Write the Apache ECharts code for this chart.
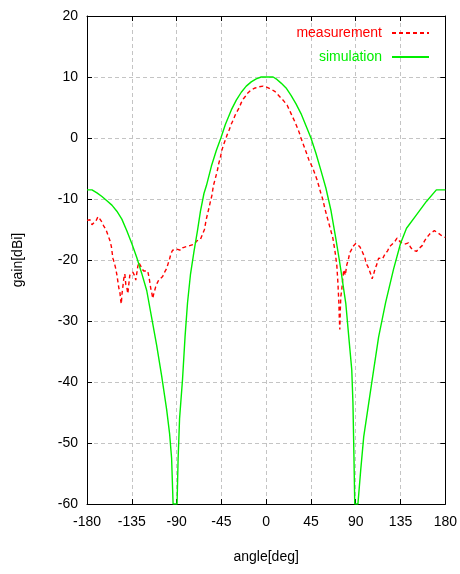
<!DOCTYPE html>
<html>
<head>
<meta charset="utf-8">
<script src="https://cdn.jsdelivr.net/npm/echarts@6/dist/echarts.min.js"></script>
<style>
  html, body { margin: 0; padding: 0; background: #fff; }
  #chart { width: 460px; height: 574px; }
</style>
</head>
<body>
<div id="chart"></div>
<script>
// 刻度
const xTicks = [-180, -135, -90, -45, 0, 45, 90, 135, 180]
const yTicks = [-60, -50, -40, -30, -20, -10, 0, 10, 20]

const measAngle = [
  -180, -178.5, -177, -175, -173, -171, -169, -167, -165, -163, -161, -159, -157, -155.5, -154,
  -152.5, -151, -150, -149, -148, -147, -146, -145.5, -145, -144, -143, -142, -141, -140, -139,
  -138, -137, -136, -135, -134, -133, -132, -131, -130, -129, -128, -127, -126, -125, -123,
  -121, -119, -117.5, -116, -115, -114, -113, -112, -111, -109.5, -108, -106, -104, -102, -100,
  -98.5, -97, -95.5, -94, -92, -90, -88, -86, -84, -82, -80, -78, -76, -74, -72,
  -70, -68, -66, -64, -62, -60.5, -59, -57.5, -56, -54.5, -53, -51, -49, -47.5, -46,
  -44.5, -43, -41, -39, -37, -35, -33, -31, -29, -27, -25, -23, -21, -19, -17,
  -15, -13, -11, -9, -7, -5, -3, -1, 1, 3, 5, 7, 9, 11, 13,
  15, 17, 19, 21, 23, 25, 27, 29, 31, 33, 35, 37, 39, 41, 43,
  45, 47, 49, 51, 53, 55, 57, 59, 61, 63, 65, 67, 69, 70, 71,
  72, 73, 73.5, 74, 74.5, 75, 76, 77, 78, 79.5, 81, 82.5, 84, 85.5, 87,
  88.5, 90, 92, 94, 96, 97.5, 99, 100.5, 102, 103.5, 105, 106.5, 108, 109.5, 111,
  113, 115, 117, 118.5, 120, 122, 124, 126, 128, 130, 131.5, 133, 135, 137, 139,
  141, 143, 145, 147, 149, 151, 153, 155, 157, 159, 161, 163, 165, 167, 169,
  171, 173, 175, 177, 179, 180
]
const measGain = [
  -13.5, -13.2, -13.4, -14.2, -14.0, -13.6, -12.9, -13.3, -13.8, -14.5, -15.0, -15.9, -16.8, -17.8, -19.7,
  -20.5, -21.5, -22.4, -23.5, -24.6, -25.2, -26.8, -27.2, -25.8, -24.4, -23.0, -22.3, -24.0, -24.5, -25.5,
  -24.0, -22.5, -22.2, -22.5, -22.0, -21.9, -22.6, -23.3, -22.2, -21.1, -20.4, -20.3, -21.0, -21.4, -21.8,
  -21.6, -21.8, -23.0, -24.6, -25.3, -26.3, -25.6, -25.0, -24.4, -23.8, -23.3, -23.0, -22.7, -22.0, -21.4,
  -20.6, -19.8, -18.9, -18.4, -18.6, -18.2, -18.1, -18.4, -18.0, -18.1, -17.8, -17.9, -17.6, -17.3, -17.4,
  -16.9, -17.1, -16.6, -16.4, -15.0, -13.6, -12.5, -11.5, -10.4, -9.4, -7.8, -6.6, -5.3, -4.1, -3.2,
  -2.0, -1.2, -0.3, 0.6, 1.4, 2.3, 3.0, 3.8, 4.4, 5.0, 5.8, 6.4, 6.8, 7.3, 7.6,
  7.9, 8.0, 8.2, 8.3, 8.4, 8.4, 8.5, 8.6, 8.3, 8.0, 8.0, 7.8, 7.6, 7.3, 6.9,
  6.6, 6.2, 5.8, 5.4, 4.7, 4.0, 3.3, 2.6, 1.8, 1.0, 0.0, -0.9, -1.8, -2.7, -3.6,
  -4.3, -5.0, -5.9, -6.8, -7.9, -9.1, -10.1, -11.6, -12.8, -14.0, -15.2, -16.4, -18.4, -19.6, -20.9,
  -23.5, -26.8, -29.5, -31.4, -28.2, -26.0, -24.8, -23.0, -21.6, -22.5, -20.8, -20.0, -18.8, -18.4, -17.8,
  -17.6, -17.3, -17.2, -17.8, -18.4, -19.0, -19.5, -20.6, -21.0, -21.6, -22.3, -23.1, -22.3, -21.4, -20.8,
  -19.7, -19.5, -19.8, -19.3, -18.9, -18.5, -17.8, -17.5, -17.2, -16.8, -16.4, -16.6, -17.1, -16.8, -17.4,
  -17.6, -17.2, -17.9, -18.3, -18.5, -18.6, -18.2, -18.3, -17.6, -16.9, -16.4, -16.0, -15.6, -15.4, -15.2,
  -15.0, -15.6, -15.9, -16.1, -16.2, -16.3
]

// simulation
const simAngle = [
  -180, -175, -170, -165, -160, -155, -150, -145, -140, -135, -130, -125, -120, -115, -110,
  -105, -100, -97, -95, -93.5, -89.5, -88.5, -87, -84, -81.5, -79, -76, -72.5, -69, -66,
  -62.5, -60, -55, -50, -45.5, -41, -35, -30, -25, -20, -15, -10, -5, 7, 10,
  15, 20, 25, 30, 35, 40, 45, 50, 55, 60, 65, 70, 73.5, 75, 80,
  83, 86, 87.2, 88.2, 89, 92.2, 95, 98, 103, 108, 113, 120, 128, 135, 141,
  151, 161, 171, 180
]
const simGain = [
  -8.5, -8.5, -9.0, -9.6, -10.3, -11.0, -12.0, -13.3, -15.2, -17.3, -19.6, -22.2, -25.0, -29.5, -34.0,
  -39.0, -44.5, -48.5, -52.5, -60, -60, -52.8, -46.0, -39.5, -32.6, -27.0, -22.3, -18.6, -15.2, -12.0,
  -9.1, -7.8, -4.6, -2.0, 0, 2.2, 4.6, 6.2, 7.5, 8.5, 9.2, 9.7, 10, 10, 9.7,
  9.0, 8.2, 7.0, 5.6, 4.0, 2.0, 0, -2.5, -5.3, -8.2, -11.8, -16.5, -20.0, -21.6, -27.1,
  -32.6, -38.0, -43.5, -52.2, -60, -60, -54.4, -49.0, -43.5, -38.0, -32.6, -27.0, -21.5, -17.3, -14.8,
  -12.6, -10.4, -8.5, -8.5
]

const toPairs = (xs, ys) => xs.map((x, i) => [x, ys[i]])

const font = "'Liberation Sans', Arial, sans-serif"
const gridLine = { show: true, lineStyle: { color: '#c4c4c4', type: [4, 3], width: 1 } }
const tick = { show: true, inside: true, length: 5, lineStyle: { color: '#000' } }
const frame = { show: true, onZero: false, lineStyle: { color: '#000' } }

let chart = echarts.init(document.getElementById('chart'))
chart.setOption({
  animation: false,
  backgroundColor: '#fff',
  grid: { left: 87, right: 11, top: 16, bottom: 70 },
  legend: {
    orient: 'vertical',
    align: 'right',
    right: 25,
    top: 21,
    itemWidth: 37,
    itemHeight: 14,
    itemGap: 10,
    itemStyle: { opacity: 0 },
    textStyle: { fontFamily: font, fontSize: 14, padding: [0, 5, 0, 0] },
    data: [
      { name: 'measurement', textStyle: { color: '#ff0000' } },
      { name: 'simulation', textStyle: { color: '#00ee00' } }
    ]
  },
  xAxis: [
    {
      type: 'value',
      min: xTicks[0],
      max: xTicks[xTicks.length - 1],
      interval: 45,
      name: 'angle[deg]',
      nameLocation: 'middle',
      nameGap: 46,
      nameTextStyle: { fontFamily: font, fontSize: 14, color: '#000' },
      axisLine: frame,
      axisTick: tick,
      axisLabel: { fontFamily: font, fontSize: 14, color: '#000', margin: 11 },
      splitLine: gridLine
    },
    {
      type: 'value',
      position: 'top',
      min: xTicks[0],
      max: xTicks[xTicks.length - 1],
      interval: 45,
      axisLine: frame,
      axisTick: tick,
      axisLabel: { show: false },
      splitLine: { show: false }
    }
  ],
  yAxis: [
    {
      type: 'value',
      min: yTicks[0],
      max: yTicks[yTicks.length - 1],
      interval: 10,
      name: 'gain[dBi]',
      nameLocation: 'middle',
      nameGap: 62,
      nameTextStyle: { fontFamily: font, fontSize: 14, color: '#000' },
      axisLine: frame,
      axisTick: tick,
      axisLabel: { fontFamily: font, fontSize: 14, color: '#000', margin: 9 },
      splitLine: gridLine
    },
    {
      type: 'value',
      position: 'right',
      min: yTicks[0],
      max: yTicks[yTicks.length - 1],
      interval: 10,
      axisLine: frame,
      axisTick: tick,
      axisLabel: { show: false },
      splitLine: { show: false }
    }
  ],
  series: [
    {
      name: 'measurement',
      type: 'line',
      data: toPairs(measAngle, measGain),
      symbol: 'none',
      clip: true,
      color: '#ff0000',
      lineStyle: { color: '#ff0000', width: 1.4, type: [4, 3] }
    },
    {
      name: 'simulation',
      type: 'line',
      data: toPairs(simAngle, simGain),
      symbol: 'none',
      clip: true,
      color: '#00ee00',
      lineStyle: { color: '#00ee00', width: 1.4 }
    }
  ]
})
</script>
</body>
</html>
